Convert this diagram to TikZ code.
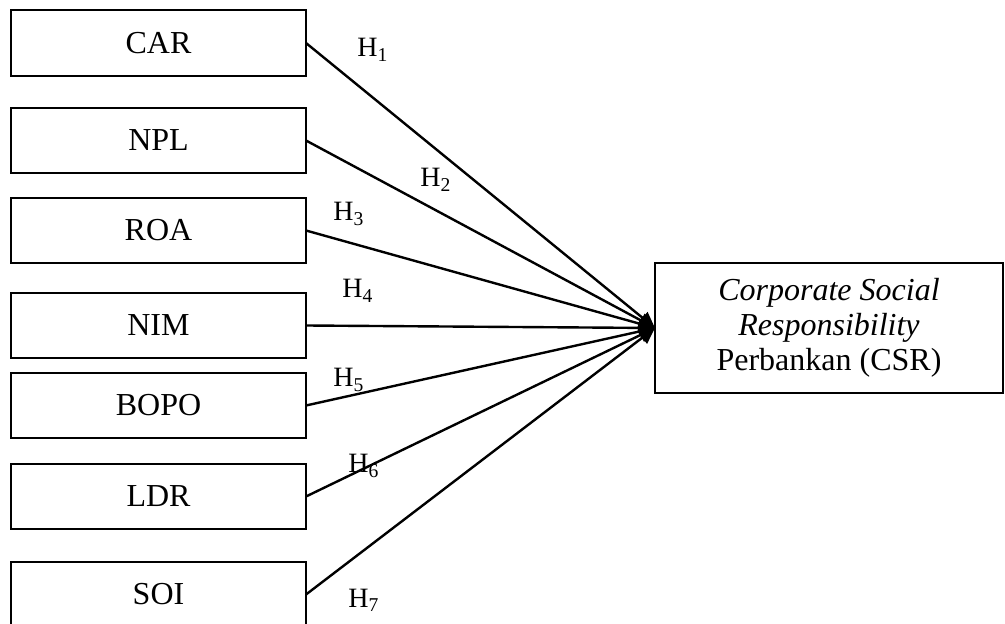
\documentclass[tikz,border=0pt]{standalone}
\usepackage{fontspec}
\setmainfont{Liberation Serif}
\usetikzlibrary{positioning,arrows.meta}

\begin{document}
\begin{tikzpicture}[
  x=0.5pt,y=-0.5pt,
  font=\fontsize{16}{17.5}\selectfont,
  var/.style={draw,line width=1pt,outer sep=0pt,minimum width=147.5pt,minimum height=32.5pt,inner sep=0pt},
  dep/.style={draw,line width=1pt,outer sep=0pt,minimum width=174pt,minimum height=65pt,align=center},
  hyp/.style={anchor=base west,inner sep=0pt,font=\fontsize{14}{16}\selectfont},
  ar/.style={-{Triangle[length=8pt,width=7.5pt]},line width=1.2pt}
]
\useasboundingbox (0,0) rectangle (1005,624);
% independent variables
\node[var,minimum height=33pt] (car) at (158.5,43) {CAR};
\node[var,below=16pt of car] (npl) {NPL};
\node[var,below=12.5pt of npl] (roa) {ROA};
\node[var,below=15pt of roa] (nim) {NIM};
\node[var,below=7.5pt of nim] (bopo) {BOPO};
\node[var,below=13pt of bopo] (ldr) {LDR};
\node[var,below=16.5pt of ldr] (soi) {SOI};
% dependent variable
\node[dep] (csr) at (829,328) {\textit{Corporate Social}\\\textit{Responsibility}\\Perbankan (CSR)};
% hypotheses
\foreach \src in {car,npl,roa,nim,bopo,ldr,soi}
  \draw[ar] (\src.east) -- (csr.west);
\node[hyp] (h1) at (357,57) {H\textsubscript{1}};
\node[hyp] (h2) at (420,187) {H\textsubscript{2}};
\node[hyp] (h3) at (333,221) {H\textsubscript{3}};
\node[hyp] (h4) at (342,298) {H\textsubscript{4}};
\node[hyp] (h5) at (333,387) {H\textsubscript{5}};
\node[hyp] (h6) at (348,473) {H\textsubscript{6}};
\node[hyp] (h7) at (348,607) {H\textsubscript{7}};
\end{tikzpicture}
\end{document}
